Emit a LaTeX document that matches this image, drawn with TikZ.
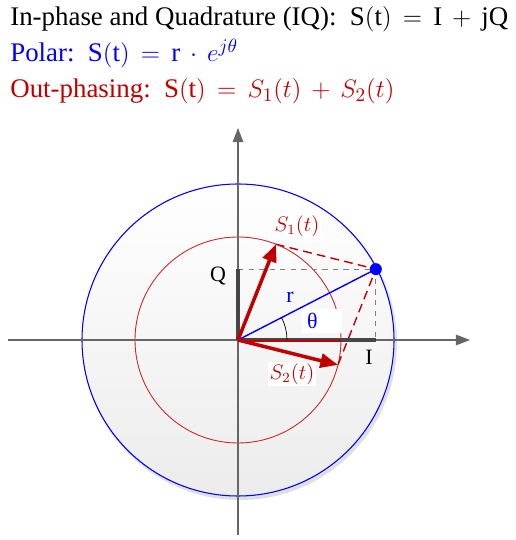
\documentclass[tikz,border=0pt]{standalone}
\usepackage{fontspec}
\setmainfont{Liberation Serif}
\usepackage{xcolor}
\usetikzlibrary{arrows.meta, positioning}
\definecolor{darkred}{RGB}{192,0,0}
\definecolor{axisgray}{RGB}{70,70,70}
\thickmuskip=8mu plus 1mu
\medmuskip=7mu plus 1mu

\begin{document}
\begin{tikzpicture}[
    x=0.02cm, y=0.02cm,
    % Define simple, standard styles
    title/.style={anchor=base west, inner sep=0, font=\fontsize{15.3}{18}\selectfont},
    axis/.style={draw=gray!80!black, line width=0.6pt, -{Triangle[length=8pt, width=6pt]}},
    bar/.style={draw=axisgray, line width=2.4pt},
    guide/.style={draw=gray, dashed, line width=0.5pt},
    vec/.style={draw=darkred, line width=2pt, -{Triangle[length=10pt, width=8pt]}},
    reddash/.style={draw=darkred, line width=0.8pt, dash pattern=on 5pt off 3pt},
    dot/.style={circle, fill=blue, inner sep=0, minimum size=0.24cm},
    lab/.style={inner sep=1pt, font=\fontsize{12.5}{14}\selectfont},
    vlab/.style={inner sep=1pt, fill=white, text=darkred, font=\fontsize{12}{14}\selectfont}
]
\useasboundingbox (-238,-200) rectangle (277,340);

% 1. Title lines: the three descriptions of S(t)
\node[title] (iq) at (-228,314) {In-phase and Quadrature (IQ):~~$\mathrm{S(t) = I + jQ}$};
\node[title, text=blue] (polar) at (-228,278) {Polar:~~$\mathrm{S(t) = r}\cdot e^{j\theta}$};
\node[title, text=darkred] (outph) at (-228,242) {Out-phasing:~~$\mathrm{S(t)} = S_1(t) + S_2(t)$};

% 2. Key points of the phasor diagram
\coordinate (O) at (0,0);
\coordinate (xl) at (-230,0);
\coordinate (xr) at (232,0);
\coordinate (yb) at (0,-195);
\coordinate (yt) at (0,212);
\coordinate (P) at (27.2:155);
\coordinate (S1) at (68.4:103);
\coordinate (S2) at (-14:103);
\coordinate (Ibar) at (P |- O);
\coordinate (Qbar) at (P -| O);

% 3. Circles: constant envelope r and the out-phasing radius
\fill[gray!25] ([shift={(2,-3)}]O) circle (157);
\fill[top color=white, bottom color=gray!15] (O) circle (156);
\draw[blue, line width=0.6pt] (O) circle (156);
\draw[darkred!85, line width=0.5pt] (O) circle (103);

% 4. Axes
\draw[axis] (xl) -- (xr);
\draw[axis] (yb) -- (yt);

% 5. I and Q components with their guides
\draw[guide] (Qbar) -- (P) -- (Ibar);
\draw[bar] (O) -- (Ibar);
\draw[bar] (O) -- (Qbar);
\draw[darkred, line width=1pt] ([yshift=-0.6pt]O) -- ([yshift=-0.6pt]0:103);

% 6. Out-phasing vectors and the polar vector
\draw[reddash] (S1) -- (P) -- (S2);
\draw[blue, line width=0.8pt] (O) -- (P);
\draw[line width=0.4pt] (49,0) arc[start angle=0, end angle=27.2, radius=49];
\draw[vec] (O) -- (S1);
\draw[vec] (O) -- (S2);
\node[dot] (pt) at (P) {};

% 7. Labels
\node[lab] (qlab) at (-20,64) {Q};
\node[lab] (ilab) at (131,-17) {I};
\node[lab, text=blue] (rlab) at (52,43) {r};
\node[lab, text=blue, fill=white, inner xsep=0.1cm, inner ysep=0pt, text width=0.6cm, minimum height=0.48cm, align=left] (thlab) at (84,19) {θ};
\node[vlab] (s1lab) at (59,114) {$S_1(t)$};
\node[vlab] (s2lab) at (54,-34) {$S_2(t)$};

\end{tikzpicture}
\end{document}
